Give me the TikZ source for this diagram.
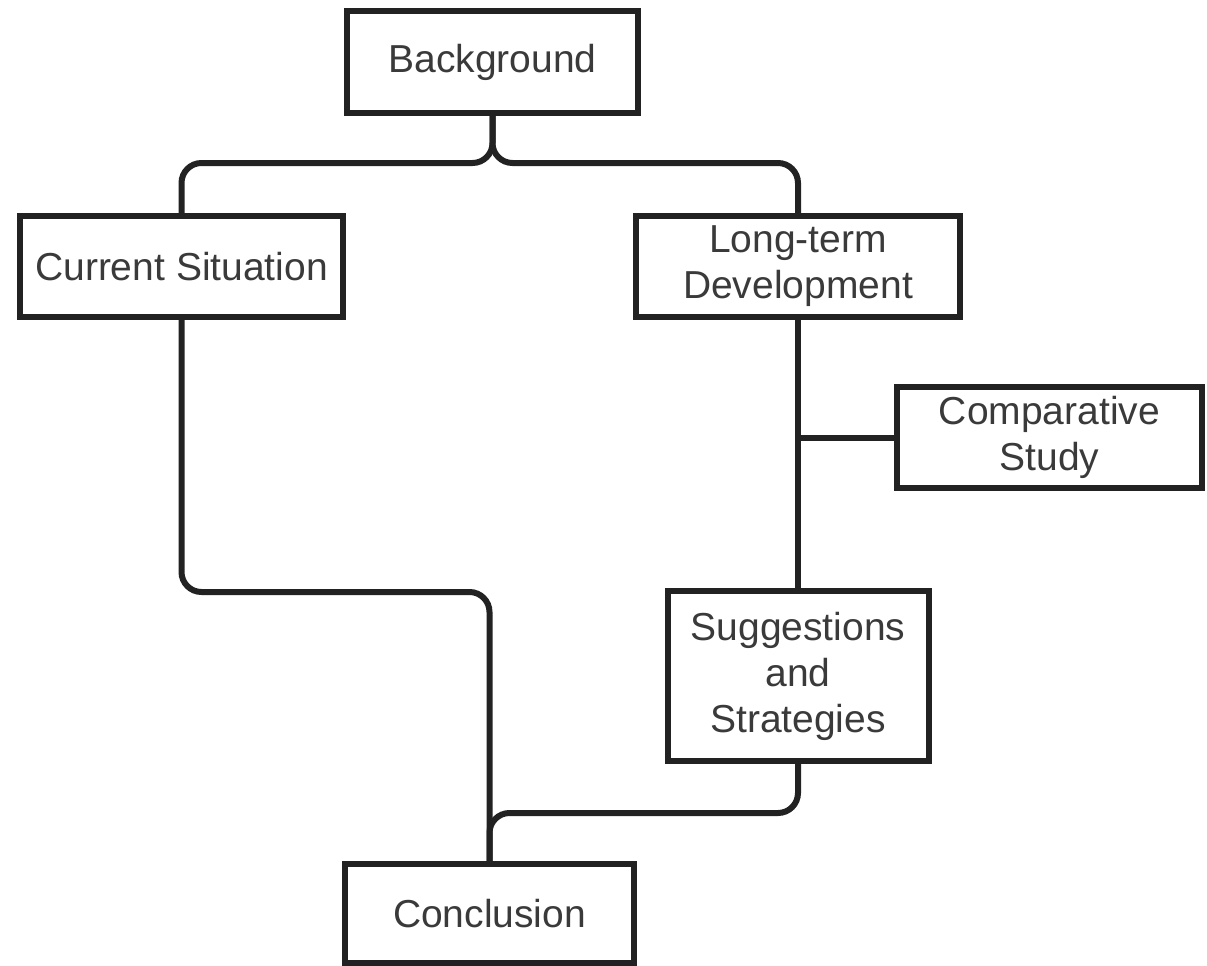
\documentclass[tikz,border=0pt]{standalone}
\usepackage{fontspec}
\setmainfont{Liberation Sans}
\usetikzlibrary{calc}
\definecolor{edge}{HTML}{222222}
\definecolor{label}{HTML}{3A3A3A}
\begin{document}
\begin{tikzpicture}[x=1pt,y=-1pt,
  box/.style={draw=edge,line width=6pt,fill=white,outer sep=0pt,inner sep=0pt,
    text=label,align=center,font=\fontsize{39}{46}\selectfont},
  link/.style={draw=edge,line width=6pt,rounded corners=20pt}]
\useasboundingbox (0,0) rectangle (1207,966);

% topic boxes
\node[box,minimum width=291pt,minimum height=102pt] (bg)  at (492.5,62)   {Background};
\node[box,minimum width=323pt,minimum height=101pt] (cs)  at (181.5,266.5) {Current Situation};
\node[box,minimum width=324pt,minimum height=101pt] (lt)  at (798,266.5)   {Long-term\\Development};
\node[box,minimum width=305pt,minimum height=101pt] (cmp) at (1049.5,437.5) {Comparative\\Study};
\node[box,minimum width=261pt,minimum height=170pt] (sg)  at (798,676)     {Suggestions\\and\\Strategies};
\node[box,minimum width=289pt,minimum height=99pt]  (cc)  at (489.5,913.5) {Conclusion};

% junction points of the connectors
\coordinate (split) at (492.5,163);
\coordinate (jl) at (489.5,592);
\coordinate (jr) at (489.5,813);
\coordinate (tee) at (lt.south |- cmp.west);

% connectors
\draw[link] (bg.south) -- (split) -| (cs.north);
\draw[link] (bg.south) -- (split) -| (lt.north);
\draw[link] (cs.south) |- (jl) -- (cc.north);
\draw[link] (sg.south) |- (jr) -- (cc.north);
\draw[link] (lt.south) -- (sg.north);
\draw[link] (tee) -- (cmp.west);
\end{tikzpicture}
\end{document}
